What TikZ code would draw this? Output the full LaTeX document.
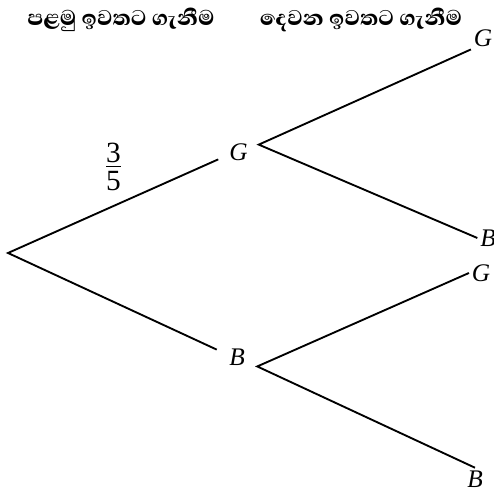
\documentclass[tikz,border=0pt]{standalone}
\usepackage{amsmath}
\usepackage{fontspec}
\setmainfont{Liberation Serif}
\newfontfamily\sinhala[Script=Sinhala,BoldFont={* ExtraBold}]{Abhaya Libre}
\usetikzlibrary{positioning}

\begin{document}
\begin{tikzpicture}[x=0.75pt,y=-0.75pt,font=\fontsize{19}{23}\selectfont,
hdr/.style={font=\sinhala\bfseries\fontsize{20.5}{24}\selectfont},
mid/.style={minimum width=30pt,minimum height=24pt,inner sep=0pt},
tip/.style={inner sep=2pt},
br/.style={line width=1.4pt}]
\useasboundingbox (0,0) rectangle (494,491);
% headings
\node[hdr] (first) at (121,20) {පළමු ඉවතට ගැනීම};
\node[hdr] (second) at (361,20) {දෙවන ඉවතට ගැනීම};
% first draw
\coordinate (root) at (8,253);
\node[mid] (G1) at (238.5,152) {\textit{G}};
\node[mid] (B1) at (237,357) {\textit{B}};
\node[align=center,inner sep=0pt,font=\fontsize{22}{21}\selectfont] (p) at (113.5,167) {\underline{3}\\5};
% second draw
\node[tip] (GG) at (483,38) {\textit{G}};
\node[tip] (GB) at (488,238) {\textit{B}};
\node[tip] (BG) at (481,273) {\textit{G}};
\node[tip] (BB) at (475,479) {\textit{B}};
\draw[br] (G1.200) -- (root) -- (B1.160);
\draw[br] (GG.south west) -- (G1.20) -- (GB.west);
\draw[br] (BG.west) -- (B1.-25) -- (BB.north);
\end{tikzpicture}
\end{document}
